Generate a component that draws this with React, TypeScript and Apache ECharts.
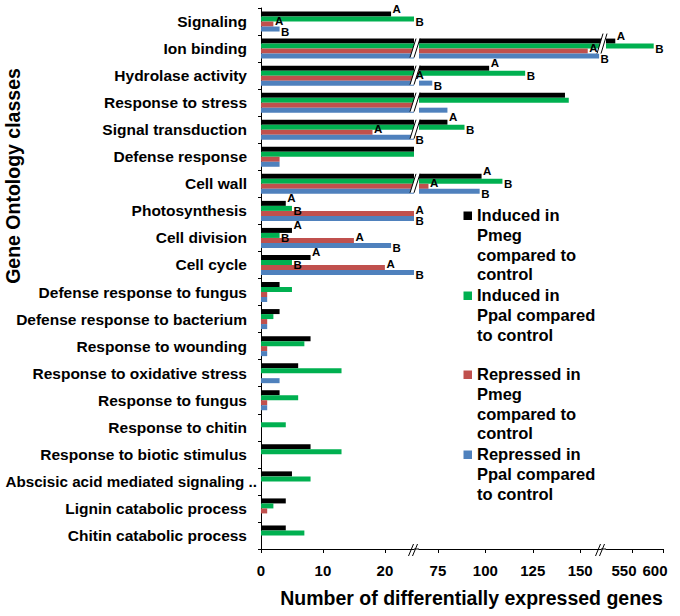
import React, { useEffect, useRef } from 'react';
import * as echarts from 'echarts';

// ---------------- data ----------------
const categories = [
  'Signaling',
  'Ion binding',
  'Hydrolase activity',
  'Response to stress',
  'Signal transduction',
  'Defense response',
  'Cell wall',
  'Photosynthesis',
  'Cell division',
  'Cell cycle',
  'Defense response to fungus',
  'Defense response to bacterium',
  'Response to wounding',
  'Response to oxidative stress',
  'Response to fungus',
  'Response to chitin',
  'Response to biotic stimulus',
  'Abscisic acid mediated signaling ..',
  'Lignin catabolic process',
  'Chitin catabolic process',
];

const inducedPmeg = [21, 523, 102, 142, 80, 25, 98, 4, 5, 8, 3, 3, 8, 6, 3, 0, 8, 5, 4, 4];
const inducedPpal = [25, 585, 121, 144, 89, 25, 109, 5, 3, 5, 5, 2, 7, 13, 6, 4, 13, 8, 2, 7];
const repressedPmeg = [2, 154, 25, 25, 18, 3, 70, 25, 15, 20, 1, 1, 1, 0, 1, 0, 0, 0, 1, 0];
const repressedPpal = [3, 160, 72, 80, 25, 3, 97, 25, 21, 25, 1, 1, 1, 3, 1, 0, 0, 0, 0, 0];

const lettersInducedPmeg = ['A', 'A', 'A', '', 'A', '', 'A', 'A', 'A', 'A', '', '', '', '', '', '', '', '', '', ''];
const lettersInducedPpal = ['B', 'B', 'B', '', 'B', '', 'B', 'B', 'B', 'B', '', '', '', '', '', '', '', '', '', ''];
const lettersRepressedPmeg = ['A', 'A', 'A', '', 'A', '', 'A', 'A', 'A', 'A', '', '', '', '', '', '', '', '', '', ''];
const lettersRepressedPpal = ['B', 'B', 'B', '', 'B', '', 'B', 'B', 'B', 'B', '', '', '', '', '', '', '', '', '', ''];

// broken x axis: three segments
const segMin = [0, 65, 508];
const segMax = [24.7, 161, 600];
const segTicks = [[0, 10, 20], [75, 100, 125, 150], [550, 600]];

const seriesNames = [
  'Induced in\nPmeg\ncompared to\ncontrol',
  'Induced in\nPpal compared\nto control',
  'Repressed in\nPmeg\ncompared to\ncontrol',
  'Repressed in\nPpal compared\nto control',
];

const xTitle = 'Number of differentially expressed genes';
const yTitle = 'Gene Ontology classes';

// ---------------- styles / layout ----------------
const FONT = '"Liberation Sans", Arial, Helvetica, sans-serif';
const COLORS = ['#000000', '#00b050', '#c0504d', '#4f81bd'];
const LABEL_DY = [-5, 2.5, -3, 3];
const TOP = 8;
const HEIGHT = 541;
const GRIDS = [
  { left: 261, width: 153 },
  { left: 419, width: 182 },
  { left: 606, width: 57 },
];
const BAR_W = 5;
const LEGEND_TOPS = [205, 285, 364, 444];
const CAT_FONT = 15.5;

export default function App() {
  const ref = useRef<HTMLDivElement>(null);

  useEffect(() => {
    if (!ref.current) return;
    const chart = echarts.init(ref.current, undefined, { renderer: 'svg' });

    const values = [inducedPmeg, inducedPpal, repressedPmeg, repressedPpal];
    const letters = [lettersInducedPmeg, lettersInducedPpal, lettersRepressedPmeg, lettersRepressedPpal];
    const owner = (v: number) => (v < segMin[1] ? 0 : v < segMin[2] ? 1 : 2);

    const grid = GRIDS.map((g) => ({
      left: g.left,
      width: g.width,
      top: TOP,
      height: HEIGHT,
      containLabel: false,
      outerBoundsMode: 'none',
    }));

    const xAxis = GRIDS.map((_, g) => ({
      type: 'value',
      gridIndex: g,
      min: segMin[g],
      max: segMax[g],
      splitLine: { show: false },
      axisLine: { show: true, lineStyle: { color: '#000', width: 1 } },
      axisTick: { show: true, length: 4, customValues: segTicks[g], lineStyle: { color: '#000', width: 1 } },
      axisLabel: {
        customValues: segTicks[g],
        color: '#000',
        fontSize: 15,
        fontWeight: 'bold',
        fontFamily: FONT,
        margin: 14,
        padding: g === 2 ? [0, 16, 0, 0] : 0,
      },
    }));

    // the one long label overhangs the common right edge, as in the original figure
    const categoryData = categories.map((c) =>
      c.endsWith(' ..')
        ? { value: c, textStyle: { fontSize: 15.2, padding: [0, -10, 0, 0] } }
        : c
    );

    const yAxis = GRIDS.map((_, g) => ({
      type: 'category',
      gridIndex: g,
      data: categoryData,
      inverse: true,
      show: g === 0,
      axisLine: { show: true, lineStyle: { color: '#000', width: 1 } },
      axisTick: { show: true, length: 3, lineStyle: { color: '#000', width: 1 } },
      axisLabel: {
        color: '#000',
        fontSize: CAT_FONT,
        fontWeight: 'bold',
        fontFamily: FONT,
        margin: 14,
      },
    }));

    const series: any[] = [];
    GRIDS.forEach((_, g) => {
      values.forEach((vals, s) => {
        series.push({
          type: 'bar',
          name: seriesNames[s],
          xAxisIndex: g,
          yAxisIndex: g,
          barWidth: BAR_W,
          barGap: '0%',
          clip: true,
          itemStyle: { color: COLORS[s] },
          data: vals.map((v, i) => ({
            value: v,
            label: {
              show: !!letters[s][i] && owner(v) === g,
              formatter: letters[s][i] || '',
              position: 'right',
              distance: 1.5,
              offset: [0, LABEL_DY[s]],
              color: '#000',
              fontSize: 11.5,
              fontWeight: 'bold',
              fontFamily: FONT,
            },
          })),
        });
      });
    });

    chart.setOption({
      animation: false,
      backgroundColor: '#ffffff',
      grid,
      xAxis,
      yAxis,
      series,
    });

    // ---------- decorations: breaks, legend, titles ----------
    const graphics: any[] = [];
    const axisY = TOP + HEIGHT;
    for (let b = 0; b < 2; b++) {
      const leftEnd = GRIDS[b].left + GRIDS[b].width;
      const rightStart = GRIDS[b + 1].left;
      const c = (leftEnd + rightStart) / 2;
      const nextMin = segMin[b + 1];
      categories.forEach((_, i) => {
        const vals = values.map((arr) => arr[i]);
        if (!vals.some((v) => v > nextMin)) return;
        const yc = chart.convertToPixel({ yAxisIndex: 0 } as any, i) as unknown as number;
        const yt = b === 0 ? yc - 10 : yc - 15;
        const yb = b === 0 ? yc + 9 : yc + 5;
        graphics.push({
          type: 'polygon',
          z: 100,
          shape: { points: [[c - 6.5, yb], [c - 0.5, yt], [c + 3.5, yt], [c - 2.5, yb]] },
          style: { fill: '#ffffff', stroke: null },
        });
        graphics.push({
          type: 'line',
          z: 101,
          shape: { x1: c - 6.5, y1: yb, x2: c - 0.5, y2: yt },
          style: { stroke: '#000', lineWidth: 1 },
        });
        graphics.push({
          type: 'line',
          z: 101,
          shape: { x1: c - 2.5, y1: yb, x2: c + 3.5, y2: yt },
          style: { stroke: '#000', lineWidth: 1 },
        });
      });
      // axis line continuation and slashes
      graphics.push({
        type: 'line',
        z: 100,
        shape: { x1: leftEnd, y1: axisY, x2: rightStart, y2: axisY },
        style: { stroke: '#000', lineWidth: 1 },
      });
      graphics.push({
        type: 'line',
        z: 101,
        shape: { x1: c - 8, y1: axisY + 7, x2: c - 3, y2: axisY - 5 },
        style: { stroke: '#000', lineWidth: 1 },
      });
      graphics.push({
        type: 'line',
        z: 101,
        shape: { x1: c - 4, y1: axisY + 7, x2: c + 1, y2: axisY - 5 },
        style: { stroke: '#000', lineWidth: 1 },
      });
    }

    // legend
    seriesNames.forEach((name, s) => {
      const top = LEGEND_TOPS[s];
      graphics.push({
        type: 'rect',
        z: 100,
        shape: { x: 463.5, y: top + 6.5, width: 8.5, height: 8.5 },
        style: { fill: COLORS[s], stroke: null },
      });
      graphics.push({
        type: 'text',
        z: 100,
        x: 477,
        y: top,
        style: {
          text: name,
          fill: '#000',
          fontSize: 16.5,
          fontWeight: 'bold',
          fontFamily: FONT,
          lineHeight: 19.8,
          align: 'left',
          verticalAlign: 'top',
        },
      });
    });

    // axis titles
    graphics.push({
      type: 'text',
      z: 100,
      x: 471.5,
      y: 598,
      style: {
        text: xTitle,
        fill: '#000',
        fontSize: 19.5,
        fontWeight: 'bold',
        fontFamily: FONT,
        align: 'center',
        verticalAlign: 'middle',
      },
    });
    graphics.push({
      type: 'text',
      z: 100,
      x: 13,
      y: 176,
      rotation: Math.PI / 2,
      style: {
        text: yTitle,
        fill: '#000',
        fontSize: 19.5,
        fontWeight: 'bold',
        fontFamily: FONT,
        align: 'center',
        verticalAlign: 'middle',
      },
    });

    chart.setOption({ graphic: graphics });

    return () => {
      chart.dispose();
    };
  }, []);

  return (
    <div
      ref={ref}
      style={{ position: 'fixed', left: 0, top: 0, width: 680, height: 616, background: '#fff' }}
    />
  );
}
